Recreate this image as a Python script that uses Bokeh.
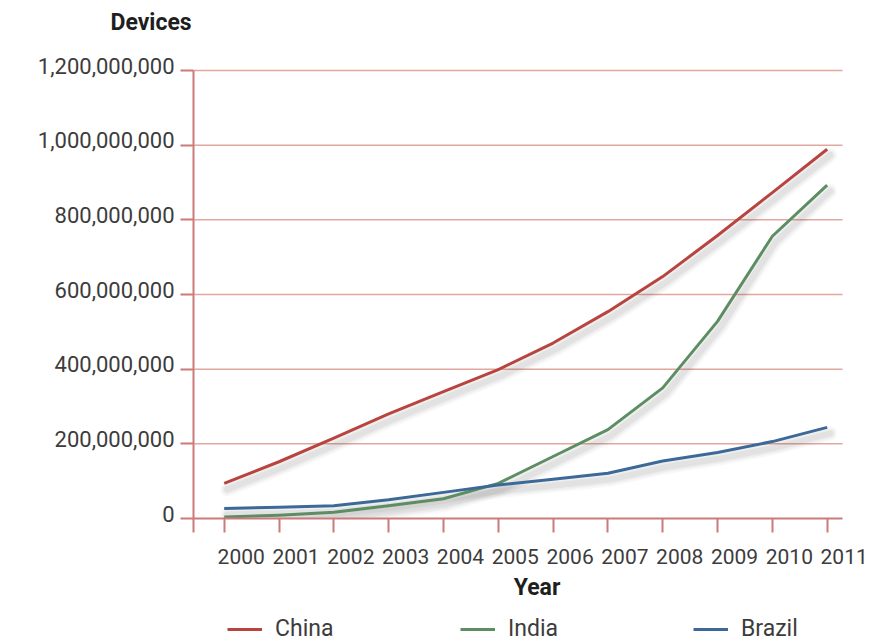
import numpy as np
from bokeh.plotting import figure
from bokeh.layouts import column
from bokeh.models import (Range1d, LinearAxis, FixedTicker, NumeralTickFormatter,
                          Legend, LegendItem)
from bokeh.embed import file_html
from bokeh.resources import INLINE

# Connected devices per year
years = [2000, 2001, 2002, 2003, 2004, 2005, 2006, 2007, 2008, 2009, 2010, 2011]
china = [94e6, 152e6, 215e6, 280e6, 340e6, 399e6, 470e6, 554e6, 648e6, 758e6, 873e6, 989e6]
india = [4e6, 9e6, 17e6, 34e6, 53e6, 94e6, 166e6, 238e6, 350e6, 528e6, 756e6, 893e6]
brazil = [27e6, 30e6, 34e6, 50e6, 70e6, 90e6, 105e6, 121e6, 154e6, 177e6, 206e6, 244e6]
y_ticks = [0, 200e6, 400e6, 600e6, 800e6, 1000e6, 1200e6]

series = [("China", china, "#b8443f"), ("India", india, "#5d8d63"), ("Brazil", brazil, "#3c6997")]

FONT = "Roboto"
AXIS_COLOR = "#cb7b7b"
GRID_COLOR = "#e2a79f"
TEXT_COLOR = "#3c3c3c"

W = 895
H_MAIN, H_KEY = 610, 32
LEFT, RIGHT, TOP = 193, 15, 42
HEADROOM = 28                         # pixels above the top tick
frame_w = W - LEFT - RIGHT
frame_h = 448 + HEADROOM
BOTTOM = H_MAIN - TOP - frame_h

# axis extents (pixel scale fixed by the drawn axis lengths)
x_lo, x_end = years[0] - 0.56, years[-1] + 0.28
y_lo, y_end = y_ticks[0], y_ticks[-1]
px_x = (x_end - x_lo) / 649          # years per pixel
px_y = (y_end - y_lo) / 448          # devices per pixel
x_hi = x_lo + frame_w * px_x
y_hi = y_lo + frame_h * px_y

p = figure(width=W, height=H_MAIN, output_backend="svg", toolbar_location=None,
           x_range=Range1d(x_lo, x_hi), y_range=Range1d(y_lo, y_hi),
           min_border_left=LEFT, min_border_right=RIGHT,
           min_border_top=TOP, min_border_bottom=BOTTOM,
           outline_line_color=None, background_fill_color="white",
           border_fill_color="white")

p.title.text = "Devices"
p.title.align = "left"
p.title.offset = -83
p.title.standoff = 13
p.title.text_font = FONT
p.title.text_font_size = "23px"
p.title.text_font_style = "bold"
p.title.text_color = "#1e1e1e"

# shifted ranges so tick labels sit beside their ticks
LAB_DX, LAB_DY = 17, 5
p.extra_x_ranges = {"xlab": Range1d(x_lo - LAB_DX * px_x, x_hi - LAB_DX * px_x)}
p.extra_y_ranges = {"ylab": Range1d(y_lo - LAB_DY * px_y, y_hi - LAB_DY * px_y)}

# main x axis: line and tick marks
xa = p.xaxis[0]
xa.ticker = FixedTicker(ticks=[], minor_ticks=[x_lo] + years)
xa.bounds = (x_lo, x_end)
xa.axis_line_color = AXIS_COLOR
xa.axis_line_width = 2
xa.minor_tick_line_color = AXIS_COLOR
xa.minor_tick_line_width = 2
xa.minor_tick_out = 14
xa.minor_tick_in = 0
xa.major_tick_out = 14
xa.major_label_standoff = 0

# main y axis: line and tick marks
ya = p.yaxis[0]
ya.ticker = FixedTicker(ticks=[], minor_ticks=y_ticks)
ya.bounds = (y_lo, y_end)
ya.axis_line_color = AXIS_COLOR
ya.axis_line_width = 2
ya.minor_tick_line_color = AXIS_COLOR
ya.minor_tick_line_width = 2
ya.minor_tick_out = 13
ya.minor_tick_in = 0
ya.major_tick_out = 13
ya.major_label_standoff = 0

# tick label axes
xl = LinearAxis(x_range_name="xlab", ticker=FixedTicker(ticks=years),
                axis_line_color=None, major_tick_line_color=None, minor_tick_line_color=None,
                major_tick_out=0, major_tick_in=0, major_label_standoff=16,
                major_label_text_font=FONT, major_label_text_font_size="21px",
                major_label_text_color=TEXT_COLOR,
                axis_label="Year", axis_label_standoff=7,
                axis_label_text_font=FONT, axis_label_text_font_size="23px",
                axis_label_text_font_style="bold", axis_label_text_color="#1e1e1e")
p.add_layout(xl, "below")

yl = LinearAxis(y_range_name="ylab", ticker=FixedTicker(ticks=y_ticks),
                formatter=NumeralTickFormatter(format="0,0"),
                axis_line_color=None, major_tick_line_color=None, minor_tick_line_color=None,
                major_tick_out=0, major_tick_in=0, major_label_standoff=6,
                major_label_text_font=FONT, major_label_text_font_size="22px",
                major_label_text_color=TEXT_COLOR)
p.add_layout(yl, "left")

# horizontal grid lines, ending where the x axis ends
p.xgrid.visible = False
p.ygrid.visible = False
grid_y = y_ticks[1:]
p.segment(x0=[x_lo] * len(grid_y), y0=grid_y, x1=[x_end] * len(grid_y), y1=grid_y,
          line_color=GRID_COLOR, line_width=1.5, level="underlay")

# soft drop shadows under the lines
xs = np.array(years, dtype=float)
for name, vals, color in series:
    ys = np.array(vals)
    for w, a in [(14, 0.035), (10, 0.05), (6, 0.07)]:
        p.line(xs + 3 * px_x, ys - 6 * px_y, line_color="#404040", line_alpha=a,
               line_width=w, line_join="round", line_cap="round")

for name, vals, color in series:
    p.line(years, vals, line_color=color, line_width=3, line_join="round")

# key strip under the chart (its frame lines up with the chart frame)
k = figure(width=W, height=H_KEY, output_backend="svg", toolbar_location=None,
           x_range=Range1d(0, 1), y_range=Range1d(0, 1),
           min_border=0, outline_line_color=None,
           background_fill_color="white", border_fill_color="white")
k.axis.visible = False
k.grid.visible = False
items = []
for name, vals, color in series:
    r = k.line(years, vals, line_color=color, line_width=3)
    items.append(LegendItem(label=name, renderers=[r]))

legend = Legend(items=items, orientation="horizontal", location=(34, 0),
                glyph_width=35, glyph_height=18, label_height=18, label_width=170,
                label_standoff=13, spacing=15, padding=0, margin=0,
                border_line_color=None, background_fill_alpha=0,
                label_text_font=FONT, label_text_font_size="23px",
                label_text_color=TEXT_COLOR)
k.add_layout(legend)

open("out.html", "w").write(file_html(column(p, k, spacing=0), INLINE))
